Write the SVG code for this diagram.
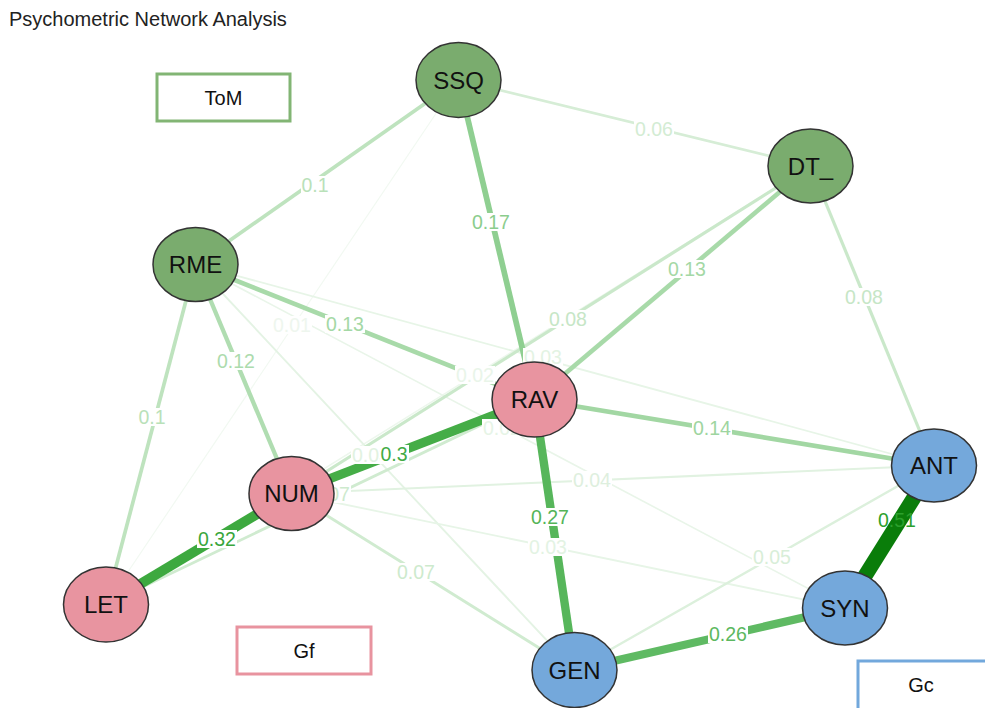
<svg xmlns="http://www.w3.org/2000/svg" width="985" height="708" viewBox="0 0 985 708">
<style>
.e{fill:none;stroke-linecap:butt}
.lb{fill:#fff}
.lt{font-family:"Liberation Sans",Arial,sans-serif;font-size:19.5px;text-anchor:middle}
.nd{stroke:#333;stroke-width:1.5}
.tom{fill:#7aac6e}
.gf{fill:#e894a0}
.gc{fill:#74a8db}
.nt{font-family:"Liberation Sans",Arial,sans-serif;font-size:24px;text-anchor:middle;fill:#111}
.leg{fill:#fff;stroke-width:3}
.legt{font-family:"Liberation Sans",Arial,sans-serif;font-size:20px;text-anchor:middle;fill:#111}
</style>
<rect width="985" height="708" fill="#fff"/>
<text x="9" y="26" font-family="Liberation Sans, Arial, sans-serif" font-size="20" fill="#222">Psychometric Network Analysis</text>

<g id="connectors">
<line class="e" x1="458.5" y1="80" x2="106" y2="604.5" stroke="#f2f9f2" stroke-width="1.2"/>
<line class="e" x1="810.5" y1="166" x2="106" y2="604.5" stroke="#edf7ed" stroke-width="1.5"/>
<line class="e" x1="195.5" y1="264.5" x2="845" y2="608" stroke="#e9f5e9" stroke-width="1.6"/>
<line class="e" x1="195.5" y1="264.5" x2="574.5" y2="670" stroke="#e4f3e4" stroke-width="1.9"/>
<line class="e" x1="195.5" y1="264.5" x2="934" y2="465.5" stroke="#e7f5e7" stroke-width="1.8"/>
<line class="e" x1="291.5" y1="493.5" x2="845" y2="608" stroke="#e7f5e7" stroke-width="1.8"/>
<line class="e" x1="291.5" y1="493.5" x2="934" y2="465.5" stroke="#e1f2e1" stroke-width="2.1"/>
<line class="e" x1="934" y1="465.5" x2="574.5" y2="670" stroke="#dcf0dc" stroke-width="2.4"/>
<line class="e" x1="458.5" y1="80" x2="810.5" y2="166" stroke="#d6edd6" stroke-width="2.6"/>
<line class="e" x1="534.5" y1="399.5" x2="106" y2="604.5" stroke="#d0ebd0" stroke-width="2.9"/>
<line class="e" x1="291.5" y1="493.5" x2="574.5" y2="670" stroke="#d0ebd0" stroke-width="2.9"/>
<line class="e" x1="810.5" y1="166" x2="291.5" y2="493.5" stroke="#cae8ca" stroke-width="3.2"/>
<line class="e" x1="810.5" y1="166" x2="934" y2="465.5" stroke="#cae8ca" stroke-width="3.2"/>
<line class="e" x1="458.5" y1="80" x2="195.5" y2="264.5" stroke="#bee3be" stroke-width="3.7"/>
<line class="e" x1="195.5" y1="264.5" x2="106" y2="604.5" stroke="#bee3be" stroke-width="3.7"/>
<line class="e" x1="195.5" y1="264.5" x2="291.5" y2="493.5" stroke="#b0ddb1" stroke-width="4.3"/>
<line class="e" x1="195.5" y1="264.5" x2="534.5" y2="399.5" stroke="#a8daa9" stroke-width="4.6"/>
<line class="e" x1="810.5" y1="166" x2="534.5" y2="399.5" stroke="#a8daa9" stroke-width="4.6"/>
<line class="e" x1="534.5" y1="399.5" x2="934" y2="465.5" stroke="#a2d7a3" stroke-width="4.8"/>
<line class="e" x1="458.5" y1="80" x2="534.5" y2="399.5" stroke="#8fcf91" stroke-width="5.7"/>
<line class="e" x1="845" y1="608" x2="574.5" y2="670" stroke="#5fba63" stroke-width="8.1"/>
<line class="e" x1="534.5" y1="399.5" x2="574.5" y2="670" stroke="#57b65b" stroke-width="8.4"/>
<line class="e" x1="534.5" y1="399.5" x2="291.5" y2="493.5" stroke="#45ad47" stroke-width="9.2"/>
<line class="e" x1="291.5" y1="493.5" x2="106" y2="604.5" stroke="#3da93f" stroke-width="9.8"/>
<line class="e" x1="934" y1="465.5" x2="845" y2="608" stroke="#0a7d0a" stroke-width="15"/>
</g>

<g id="edge-labels">
<rect class="lb" x="272" y="316" width="40" height="18"/><text class="lt" x="292" y="332" fill="#eef6ee">0.01</text>
<rect class="lb" x="455" y="366" width="40" height="18"/><text class="lt" x="475" y="382" fill="#e9f5e9">0.02</text>
<rect class="lb" x="482" y="419" width="40" height="18"/><text class="lt" x="502" y="435" fill="#e6f4e6">0.02</text>
<rect class="lb" x="351" y="446" width="40" height="18"/><text class="lt" x="371" y="462" fill="#e1f2e1">0.03</text>
<rect class="lb" x="523" y="348" width="40" height="18"/><text class="lt" x="543" y="364" fill="#e3f3e3">0.03</text>
<rect class="lb" x="528" y="538" width="40" height="18"/><text class="lt" x="548" y="554" fill="#e3f3e3">0.03</text>
<rect class="lb" x="572" y="471" width="40" height="18"/><text class="lt" x="592" y="487" fill="#deefde">0.04</text>
<rect class="lb" x="752" y="548" width="40" height="18"/><text class="lt" x="772" y="564" fill="#d8eed8">0.05</text>
<rect class="lb" x="634" y="120" width="40" height="18"/><text class="lt" x="654" y="136" fill="#d3ecd3">0.06</text>
<rect class="lb" x="311" y="485" width="40" height="18"/><text class="lt" x="331" y="501" fill="#cdeacd">0.07</text>
<rect class="lb" x="396" y="563" width="40" height="18"/><text class="lt" x="416" y="579" fill="#cdeacd">0.07</text>
<rect class="lb" x="548" y="310" width="40" height="18"/><text class="lt" x="568" y="326" fill="#c6e6c6">0.08</text>
<rect class="lb" x="844" y="288" width="40" height="18"/><text class="lt" x="864" y="304" fill="#c6e6c6">0.08</text>
<rect class="lb" x="301" y="176" width="29" height="18"/><text class="lt" x="315" y="192" fill="#b9e1b9">0.1</text>
<rect class="lb" x="138" y="408" width="29" height="18"/><text class="lt" x="152" y="424" fill="#b9e1b9">0.1</text>
<rect class="lb" x="216" y="352" width="40" height="18"/><text class="lt" x="236" y="368" fill="#acdbad">0.12</text>
<rect class="lb" x="325" y="315" width="40" height="18"/><text class="lt" x="345" y="331" fill="#a4d8a5">0.13</text>
<rect class="lb" x="667" y="260" width="40" height="18"/><text class="lt" x="687" y="276" fill="#a4d8a5">0.13</text>
<rect class="lb" x="692" y="419" width="40" height="18"/><text class="lt" x="712" y="435" fill="#9ed5a0">0.14</text>
<rect class="lb" x="471" y="213" width="40" height="18"/><text class="lt" x="491" y="229" fill="#8bcd8d">0.17</text>
<rect class="lb" x="708" y="625" width="40" height="18"/><text class="lt" x="728" y="641" fill="#5cb860">0.26</text>
<rect class="lb" x="530" y="508" width="40" height="18"/><text class="lt" x="550" y="524" fill="#54b458">0.27</text>
<rect class="lb" x="380" y="445" width="29" height="18"/><text class="lt" x="394" y="461" fill="#42ab45">0.3</text>
<rect class="lb" x="197" y="530" width="40" height="18"/><text class="lt" x="217" y="546" fill="#3aa63c">0.32</text>
<text class="lt" x="897" y="527" fill="#2ca02c">0.51</text>
</g>

<g id="legend-ToM"><rect class="leg" x="157" y="74" width="133" height="47" stroke="#82b574"/><text class="legt" x="223.5" y="104.5">ToM</text></g>
<g id="legend-Gf"><rect class="leg" x="237" y="627" width="134" height="47" stroke="#e8939f"/><text class="legt" x="304" y="657.5">Gf</text></g>
<g id="legend-Gc"><rect class="leg" x="858" y="661" width="135" height="50" stroke="#72a8dc"/><text class="legt" x="921" y="691.5">Gc</text></g>

<g id="node-SSQ"><ellipse class="nd tom" cx="458.5" cy="80" rx="42.5" ry="37.5"/><text class="nt" x="458.5" y="88.5">SSQ</text></g>
<g id="node-DT_"><ellipse class="nd tom" cx="810.5" cy="166" rx="42.5" ry="37"/><text class="nt" x="810.5" y="174.5">DT_</text></g>
<g id="node-RME"><ellipse class="nd tom" cx="195.5" cy="264.5" rx="42.5" ry="37"/><text class="nt" x="195.5" y="273">RME</text></g>
<g id="node-RAV"><ellipse class="nd gf" cx="534.5" cy="399.5" rx="42.5" ry="37.5"/><text class="nt" x="534.5" y="408">RAV</text></g>
<g id="node-NUM"><ellipse class="nd gf" cx="291.5" cy="493.5" rx="42.5" ry="37"/><text class="nt" x="291.5" y="502">NUM</text></g>
<g id="node-LET"><ellipse class="nd gf" cx="106" cy="604.5" rx="42.5" ry="37.5"/><text class="nt" x="106" y="613">LET</text></g>
<g id="node-ANT"><ellipse class="nd gc" cx="934" cy="465.5" rx="42.5" ry="36.5"/><text class="nt" x="934" y="474">ANT</text></g>
<g id="node-SYN"><ellipse class="nd gc" cx="845" cy="608" rx="42.5" ry="37"/><text class="nt" x="845" y="616.5">SYN</text></g>
<g id="node-GEN"><ellipse class="nd gc" cx="574.5" cy="670" rx="42.5" ry="37.5"/><text class="nt" x="574.5" y="678.5">GEN</text></g>
</svg>
